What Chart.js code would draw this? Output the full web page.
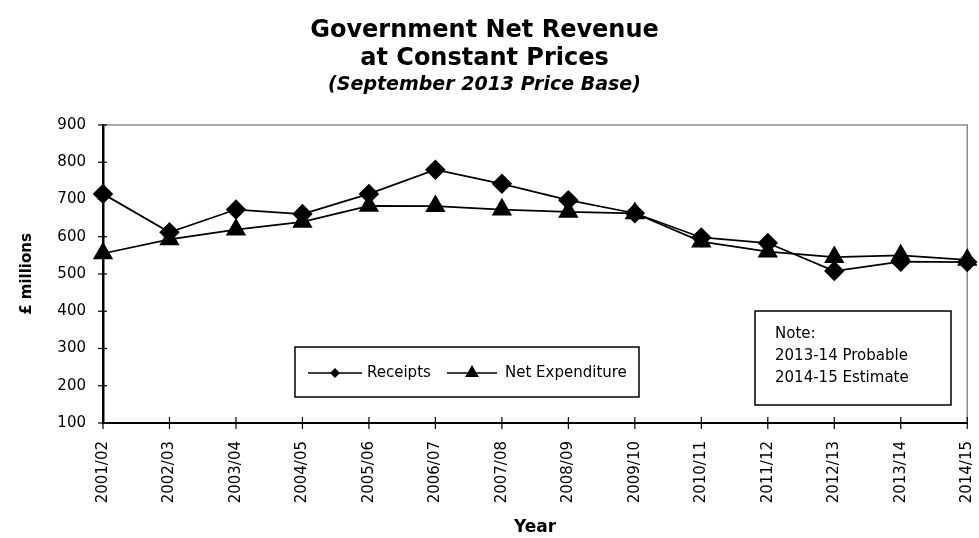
<!DOCTYPE html>
<html lang="en">
<head>
    <meta charset="UTF-8">
    <title>Government Net Revenue at Constant Prices</title>
    <script src="https://cdn.jsdelivr.net/npm/chart.js"></script>
    <style>
        html, body { margin: 0; padding: 0; background: #fff; }
        #wrap { width: 979px; height: 538px; position: relative; }
    </style>
</head>
<body>
    <div id="wrap"><canvas id="revChart"></canvas></div>

    <script>
        // values (£ millions)
        const years = ['2001/02', '2002/03', '2003/04', '2004/05', '2005/06', '2006/07', '2007/08',
                       '2008/09', '2009/10', '2010/11', '2011/12', '2012/13', '2013/14', '2014/15'];
        const receipts = [715, 612, 673, 661, 715, 780, 742, 698, 663, 598, 583, 508, 533, 532];
        const netExpenditure = [555, 593, 619, 640, 683, 682, 673, 667, 663, 587, 560, 545, 550, 538];
        const noteLines = ['Note:', '2013-14 Probable', '2014-15 Estimate'];

        const FONT = "'DejaVu Sans', Verdana, sans-serif";
        Chart.defaults.font.family = FONT;
        Chart.defaults.color = '#000';

        function marker(ctx, style, x, y, r) {
            ctx.beginPath();
            if (style === 'rectRot') {
                ctx.moveTo(x, y - r); ctx.lineTo(x + r, y); ctx.lineTo(x, y + r); ctx.lineTo(x - r, y);
            } else {
                const h = r * 0.866;
                ctx.moveTo(x, y - r); ctx.lineTo(x + h, y + r / 2); ctx.lineTo(x - h, y + r / 2);
            }
            ctx.closePath();
            ctx.fill();
        }

        // frame, crossing tick marks, the in-plot legend and the note box
        const extras = {
            id: 'extras',
            beforeDatasetsDraw(chart) {
                const { ctx, chartArea: a } = chart;
                ctx.save();
                ctx.strokeStyle = '#8c8c8c';
                ctx.lineWidth = 1.5;
                ctx.beginPath();
                ctx.moveTo(a.left, a.top); ctx.lineTo(a.right, a.top); ctx.lineTo(a.right, a.bottom);
                ctx.stroke();
                ctx.strokeStyle = '#000';
                ctx.lineWidth = 1.2;
                const ys = chart.scales.y, xs = chart.scales.x;
                ys.ticks.forEach(t => {
                    const py = ys.getPixelForValue(t.value);
                    ctx.beginPath(); ctx.moveTo(a.left - 5, py); ctx.lineTo(a.left + 4, py); ctx.stroke();
                });
                xs.ticks.forEach((t, i) => {
                    const px = xs.getPixelForTick(i);
                    ctx.beginPath(); ctx.moveTo(px, a.bottom - 6); ctx.lineTo(px, a.bottom + 6); ctx.stroke();
                });
                ctx.restore();
            },
            afterDraw(chart) {
                const { ctx } = chart;
                ctx.save();
                ctx.fillStyle = '#fff';
                ctx.strokeStyle = '#000';
                ctx.lineWidth = 1.5;

                // legend
                ctx.fillRect(295, 347, 344, 50);
                ctx.strokeRect(295, 347, 344, 50);
                ctx.font = '15px ' + FONT;
                ctx.textBaseline = 'middle';
                const ly = 373;
                const items = [
                    { ds: chart.data.datasets[0], x0: 308, x1: 362, tx: 367, r: 5 },
                    { ds: chart.data.datasets[1], x0: 447, x1: 497, tx: 505, r: 8 }
                ];
                items.forEach(it => {
                    ctx.lineWidth = 1.5;
                    ctx.beginPath(); ctx.moveTo(it.x0, ly); ctx.lineTo(it.x1, ly); ctx.stroke();
                    ctx.fillStyle = '#000';
                    marker(ctx, it.ds.pointStyle, (it.x0 + it.x1) / 2, ly, it.r);
                    ctx.fillText(it.ds.label, it.tx, ly);
                });

                // note box
                ctx.fillStyle = '#fff';
                ctx.fillRect(755, 311, 196, 94);
                ctx.strokeRect(755, 311, 196, 94);
                ctx.fillStyle = '#000';
                noteLines.forEach((s, i) => ctx.fillText(s, 775, 334 + i * 22));
                ctx.restore();
            }
        };

        new Chart(document.getElementById('revChart'), {
            type: 'line',
            data: {
                labels: years,
                datasets: [
                    { label: 'Receipts', data: receipts, pointStyle: 'rectRot', pointRadius: 9,
                      borderColor: '#000', backgroundColor: '#000', borderWidth: 1.75, clip: false },
                    { label: 'Net Expenditure', data: netExpenditure, pointStyle: 'triangle', pointRadius: 10,
                      borderColor: '#000', backgroundColor: '#000', borderWidth: 1.75, clip: false }
                ]
            },
            options: {
                responsive: true,
                maintainAspectRatio: false,
                animation: false,
                layout: { padding: { left: 0, right: 10, top: 0, bottom: 0 } },
                elements: { line: { tension: 0 }, point: { borderWidth: 0, hoverRadius: 9 } },
                plugins: {
                    legend: { display: false },
                    tooltip: { enabled: false },
                    title: {
                        display: true,
                        text: ['Government Net Revenue', 'at Constant Prices'],
                        font: { size: 24, weight: 'bold', lineHeight: 1.17 },
                        color: '#000',
                        padding: { top: 17, bottom: 0 }
                    },
                    subtitle: {
                        display: true,
                        text: '(September 2013 Price Base)',
                        font: { size: 19, weight: 'bold', style: 'italic', lineHeight: 1.2 },
                        color: '#000',
                        padding: { top: 1, bottom: 28 }
                    }
                },
                scales: {
                    x: {
                        grid: { display: false, drawTicks: false },
                        border: { color: '#000', width: 2 },
                        ticks: { font: { size: 15 }, minRotation: 90, maxRotation: 90, autoSkip: false, padding: 18 },
                        title: { display: true, text: 'Year', font: { size: 17, weight: 'bold', lineHeight: 1.2 },
                                 padding: { top: 0, bottom: 0 } },
                        afterFit(s) { s.height = 115; s.paddingLeft = 0; s.paddingRight = 0; }
                    },
                    y: {
                        min: 100, max: 900,
                        grid: { display: false, drawTicks: false },
                        border: { color: '#000', width: 2.5 },
                        ticks: { stepSize: 100, font: { size: 15 }, padding: 17 },
                        title: { display: true, text: '£ millions', font: { size: 15, weight: 'bold', lineHeight: 1.2 },
                                 padding: { top: 18, bottom: 0 } },
                        afterFit(s) { s.width = 103; s.paddingTop = 0; s.paddingBottom = 0; }
                    }
                }
            },
            plugins: [extras]
        });
    </script>
</body>
</html>
